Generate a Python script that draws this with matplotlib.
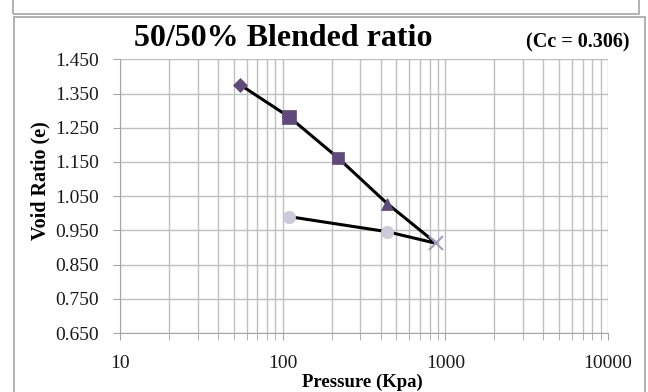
import matplotlib.pyplot as plt
from matplotlib.patches import Rectangle
from matplotlib.ticker import LogLocator, FixedLocator, NullFormatter

# consolidation test points (pressure in kPa, void ratio)
pressure = [55, 110, 220, 440, 880, 440, 110]
void_ratio = [1.375, 1.281, 1.161, 1.028, 0.912, 0.946, 0.990]
markers = ['D', 's', 's', '^', 'x', 'o', 'o']
colors = ['#604A7B', '#604A7B', '#604A7B', '#604A7B', '#A29CBE', '#CCC9DA', '#CCC9DA']
sizes = [7, 10, 9, 9, 10, 9, 9]

y_ticks = [0.650, 0.750, 0.850, 0.950, 1.050, 1.150, 1.250, 1.350, 1.450]
x_ticks = [10, 100, 1000, 10000]

plt.rcParams['font.family'] = ['Liberation Serif', 'DejaVu Serif']

fig = plt.figure(figsize=(6.48, 3.92), dpi=100)
# outer frames like the pasted Excel chart
fig.patches.append(Rectangle((13 / 648, 1 - 13.5 / 392), 626 / 648, 0.2, transform=fig.transFigure,
                             fill=False, edgecolor='#A6A6A6', lw=1.2))
fig.patches.append(Rectangle((14 / 648, -0.1), 631 / 648, 1.1 - 17 / 392, transform=fig.transFigure,
                             fill=False, edgecolor='#A6A6A6', lw=1.2))

ax = fig.add_axes([120 / 648, 1 - 333 / 392, 488 / 648, 273.7 / 392])
ax.set_xscale('log')
ax.set_xlim(10, 10000)
ax.set_ylim(0.650, 1.450)

ax.plot(pressure, void_ratio, color='black', lw=2.2, zorder=3)
for p, e, m, c, s in zip(pressure, void_ratio, markers, colors, sizes):
    ax.plot(p, e, marker=m, color=c, markersize=s, markeredgewidth=1.5 if m == 'x' else 0.5,
            markeredgecolor=c, linestyle='none', zorder=4)

ax.xaxis.set_major_locator(FixedLocator(x_ticks))
ax.xaxis.set_minor_locator(LogLocator(base=10, subs=range(2, 10)))
ax.xaxis.set_minor_formatter(NullFormatter())
ax.set_xticklabels([str(t) for t in x_ticks])
ax.set_yticks(y_ticks)
ax.set_yticklabels(['%.3f' % t for t in y_ticks])

ax.grid(True, which='both', color='#BFBFBF', lw=1.0)
ax.set_axisbelow(True)
for side in ['top', 'right']:
    ax.spines[side].set_visible(False)
for side in ['left', 'bottom']:
    ax.spines[side].set_color('#A6A6A6')
ax.tick_params(axis='both', which='both', colors='#A6A6A6', labelcolor='#1A1A1A', labelsize=14)
ax.tick_params(axis='y', length=5, pad=10)
ax.tick_params(axis='x', which='major', length=5, pad=11)
ax.tick_params(axis='x', which='minor', length=5)

fig.text(40 / 648, 1 - 181 / 392, 'Void Ratio (e)', fontsize=14.5, fontweight='bold',
         rotation=90, ha='center', va='center')
fig.text(362 / 648, 1 - 386.5 / 392, 'Pressure (Kpa)', fontsize=13.5, fontweight='bold',
         ha='center', va='baseline')

fig.text(283 / 648, 1 - 39 / 392, '50/50% Blended ratio', fontsize=23, fontweight='bold',
         ha='center', va='center')
fig.text(578 / 648, 1 - 42 / 392, '(Cc = 0.306)', fontsize=14.5, fontweight='bold',
         ha='center', va='center')

fig.savefig('out.png', dpi=100)
